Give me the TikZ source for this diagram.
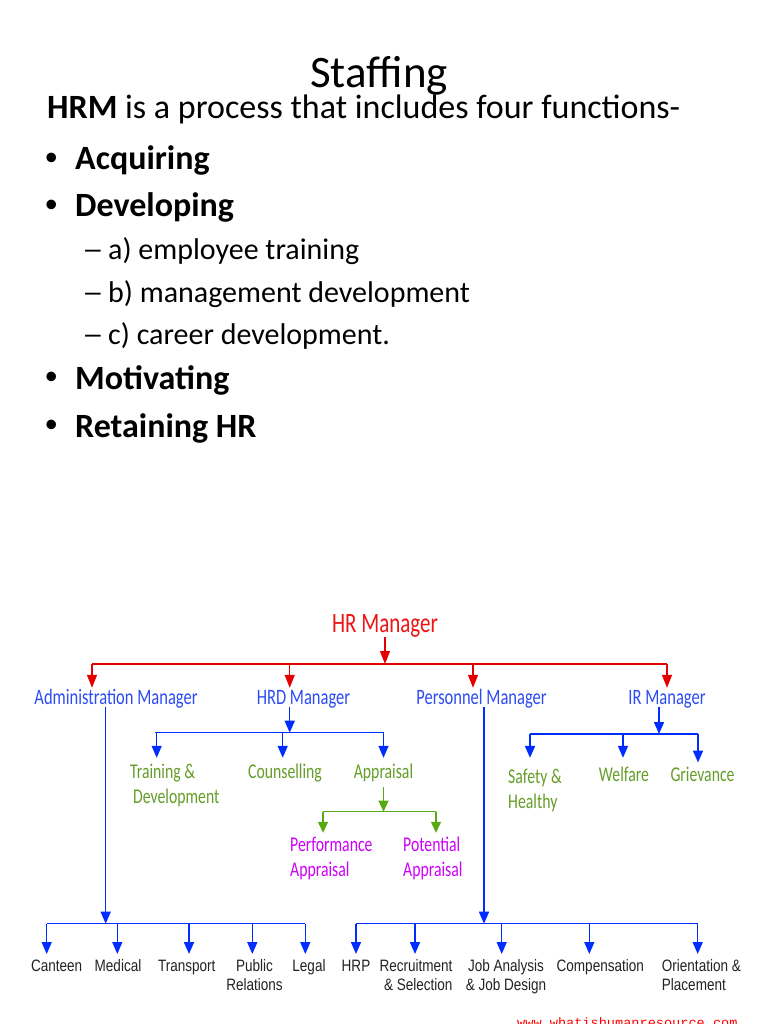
\documentclass[tikz,border=0pt]{standalone}
\usepackage{graphicx}
\usepackage{fontspec}
\setmainfont{Carlito}
\newfontfamily\chartfont[FakeStretch=0.75]{Carlito}
\newfontfamily\boxfont[FakeStretch=0.82]{Liberation Sans}
\newfontfamily\wmfont{Liberation Mono}
\usetikzlibrary{arrows.meta}
\definecolor{hrred}{RGB}{228,0,0}
\definecolor{hrtxt}{RGB}{238,20,20}
\definecolor{bline}{RGB}{0,45,255}
\definecolor{btxt}{RGB}{45,75,245}
\definecolor{gtxt}{RGB}{100,158,40}
\definecolor{gline}{RGB}{88,170,18}
\definecolor{mtxt}{RGB}{205,0,250}
\definecolor{ktxt}{RGB}{35,35,35}
\newcommand{\mybul}{\makebox[32pt][l]{\hspace{1.5pt}\raisebox{4.5pt}{\fontsize{27}{27}\selectfont •}}}
\newcommand{\mydash}{\makebox[26pt][l]{\scalebox{1.45}[1]{–}}}
\tikzset{
  lbl/.style={inner sep=0pt, anchor=base},
  titletxt/.style={lbl, font=\fontsize{45}{50}\selectfont},
  bodytxt/.style={lbl, anchor=base west, font=\fontsize{34}{40}\selectfont},
  subtxt/.style={lbl, anchor=base west, font=\fontsize{30}{36}\selectfont},
  topmgr/.style={lbl, font=\chartfont\fontsize{28}{32}\selectfont, text=hrtxt},
  mgr/.style={lbl, font=\chartfont\fontsize{22}{26}\selectfont, text=btxt, text height=16pt, text depth=3pt},
  func/.style={lbl, font=\chartfont\fontsize{21}{25}\selectfont, text=gtxt, text height=20pt, text depth=9pt},
  subfunc/.style={lbl, font=\chartfont\fontsize{21}{25}\selectfont, text=mtxt},
  leaf/.style={lbl, font=\boxfont\fontsize{16.5}{19}\selectfont, text=ktxt, text height=17.5pt},
  redln/.style={draw=hrred, line width=1.3pt},
  redarr/.style={redln, -{Triangle[width=10pt,length=13pt]}},
  blueln/.style={draw=bline, line width=1.4pt},
  bluearr/.style={blueln, -{Triangle[width=10pt,length=12pt]}},
  greenln/.style={draw=gline, line width=1.3pt},
  greenarr/.style={greenln, -{Triangle[width=10pt,length=11pt]}},
}
\begin{document}
\begin{tikzpicture}[x=1pt,y=-1pt]
\fill[white] (0,0) rectangle (768,1024);
\useasboundingbox (0,0) rectangle (768,1024);
\clip (0,0) rectangle (768,1024);

% ---------- text part ----------
\node[titletxt] (title) at (379,88) {Staffing};
\node[bodytxt] (intro) at (47,119) {\textbf{HRM} is a process that includes four functions-};
\node[bodytxt] (acq) at (43,170) {\mybul\textbf{Acquiring}};
\node[bodytxt] (dev) at (43,217) {\mybul\textbf{Developing}};
\node[subtxt] (suba) at (82,259) {\mydash a) employee training};
\node[subtxt] (subb) at (82,302) {\mydash b) management development};
\node[subtxt] (subc) at (82,344) {\mydash c) career development.};
\node[bodytxt] (mot) at (43,389) {\mybul\textbf{Motivating}};
\node[bodytxt] (ret) at (43,437) {\mybul\textbf{Retaining HR}};

% ---------- chart: nodes ----------
\node[topmgr] (hr) at (385,632) {HR Manager};
\node[mgr] (adm) at (116,704) {Administration Manager};
\node[mgr] (hrd) at (303.5,704) {HRD Manager};
\node[mgr] (per) at (481.5,704) {Personnel Manager};
\node[mgr] (irm) at (667,704) {IR Manager};

% two-line nodes: anchor base = baseline of the last line
\node[func, anchor=base west, align=left, text height=45pt] (trn) at (130,803) {Training \&\\[0pt]\hspace{3pt}Development};
\node[func] (cou) at (285,778) {Counselling};
\node[func] (apr) at (383.5,778) {Appraisal};
\node[subfunc, anchor=base west, align=left, text height=43.7pt] (pfa) at (290,876.7) {Performance\\Appraisal};
\node[subfunc, anchor=base west, align=left, text height=43.7pt] (pta) at (403,876.7) {Potential\\Appraisal};

\node[func, anchor=base west, align=left, text height=50pt] (saf) at (508,808) {Safety \&\\Healthy};
\node[func, text height=23pt] (wel) at (624,781) {Welfare};
\node[func, text height=18.3pt] (grv) at (702.5,781) {Grievance};

\node[leaf] (can) at (56.7,971.7) {Canteen};
\node[leaf] (med) at (118,971.7) {Medical};
\node[leaf] (trp) at (186.7,971.7) {Transport};
\node[leaf, align=center, text height=36.5pt] (pub) at (254.5,990.7) {Public\\Relations};
\node[leaf] (leg) at (309,971.7) {Legal};
\node[leaf] (hrp) at (356,971.7) {HRP};
\node[leaf, anchor=base east, align=right, text height=36.5pt] (rec) at (452.7,990.7) {Recruitment\\\& Selection};
\node[leaf, align=center, text height=36.5pt] (job) at (506,990.7) {Job Analysis\\\& Job Design};
\node[leaf] (cmp) at (600.3,971.7) {Compensation};
\node[leaf, anchor=base west, align=left, text height=36.5pt] (ori) at (661.7,990.7) {Orientation \&\\Placement};

\node[lbl, anchor=base west, font=\wmfont\fontsize{13.6}{16}\selectfont, text=red] (wm) at (517,1027) {www.whatishumanresource.com};

% ---------- chart: connectors ----------
% HR Manager level
\coordinate (hrj) at (385,664);
\coordinate (rb1) at (92,664);
\coordinate (rb2) at (289.7,664);
\coordinate (rb3) at (473,664);
\coordinate (rb4) at (667,664);
\draw[redarr] (hr.south) -- (hrj);
\draw[redln] (rb1) -- (rb4);
\draw[redarr] (rb1) -- (rb1 |- adm.north);
\draw[redarr] (rb2) -- (rb2 |- hrd.north);
\draw[redarr] (rb3) -- (rb3 |- per.north);
\draw[redarr] (rb4) -- (rb4 |- irm.north);

% HRD branch
\coordinate (hj) at (289.7,732.7);
\coordinate (hb1) at (156.7,732.7);
\coordinate (hb2) at (282.7,732.7);
\coordinate (hb3) at (383.5,732.7);
\draw[bluearr] (hj |- hrd.south) -- (hj);
\draw[blueln] (155,732.7) -- (hb3);
\draw[bluearr] (hb1) -- (hb1 |- trn.north);
\draw[bluearr] (hb2) -- (hb2 |- cou.north);
\draw[bluearr] (hb3) -- (hb3 |- apr.north);

% Appraisal branch
\coordinate (gj) at (383.5,811.7);
\coordinate (gb1) at (323,811.7);
\coordinate (gb2) at (436,811.7);
\draw[greenarr] (apr.south) -- (gj);
\draw[greenln] (gb1) -- (gb2);
\draw[greenarr] (gb1) -- (gb1 |- pfa.north);
\draw[greenarr] (gb2) -- (gb2 |- pta.north);

% IR branch
\coordinate (ij) at (659,734);
\coordinate (ib1) at (530,734);
\coordinate (ib2) at (623,734);
\coordinate (ib3) at (698,734);
\draw[bluearr] (ij |- irm.south) -- (ij);
\draw[blueln, line width=2.4pt] (ib1) -- (ib3);
\draw[bluearr, line width=2pt] (ib1) -- (ib1 |- saf.north);
\draw[bluearr] (ib2) -- (ib2 |- wel.north);
\draw[bluearr, line width=2pt] (ib3) -- (ib3 |- grv.north);

% Administration branch
\coordinate (aj) at (105.7,923.7);
\coordinate (ab1) at (46.7,923.7);
\coordinate (ab2) at (117.3,923.7);
\coordinate (ab3) at (189,923.7);
\coordinate (ab4) at (252.3,923.7);
\coordinate (ab5) at (305.3,923.7);
\draw[bluearr] (aj |- adm.south) -- (aj);
\draw[blueln] (ab1) -- (ab5);
\draw[bluearr] (ab1) -- (ab1 |- can.north);
\draw[bluearr] (ab2) -- (ab2 |- med.north);
\draw[bluearr, line width=2pt] (ab3) -- (ab3 |- trp.north);
\draw[bluearr] (ab4) -- (ab4 |- pub.north);
\draw[bluearr] (ab5) -- (ab5 |- leg.north);

% Personnel branch
\coordinate (pj) at (484,923.7);
\coordinate (pb1) at (356,923.7);
\coordinate (pb2) at (415,923.7);
\coordinate (pb3) at (501.7,923.7);
\coordinate (pb4) at (589.3,923.7);
\coordinate (pb5) at (697.7,923.7);
\draw[bluearr] (pj |- per.south) -- (pj);
\draw[blueln] (pb1) -- (pb5);
\draw[bluearr] (pb1) -- (pb1 |- hrp.north);
\draw[bluearr] (pb2) -- (pb2 |- rec.north);
\draw[bluearr] (pb3) -- (pb3 |- job.north);
\draw[bluearr] (pb4) -- (pb4 |- cmp.north);
\draw[bluearr] (pb5) -- (pb5 |- ori.north);
\end{tikzpicture}
\end{document}
